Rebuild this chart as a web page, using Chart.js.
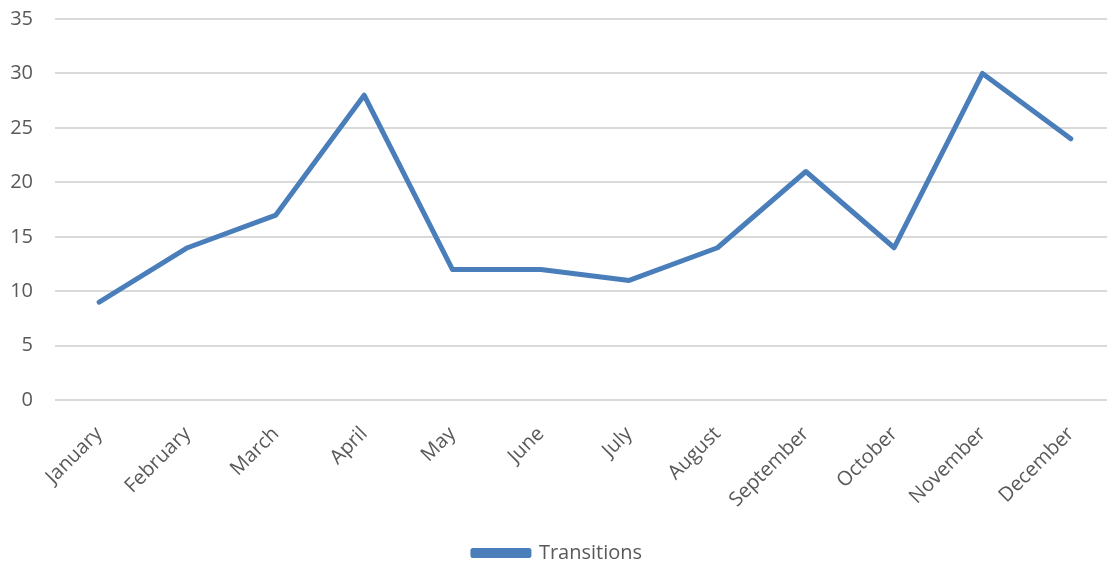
<!DOCTYPE html>
<html>
<head>
<meta charset="utf-8">
<script src="https://cdn.jsdelivr.net/npm/chart.js@4/dist/chart.umd.min.js"></script>
<style>
  html, body { margin: 0; padding: 0; background: #fff; overflow: hidden; }
  #wrap { width: 1115px; height: 567px; }
</style>
</head>
<body>
<div id="wrap"><canvas id="lineChart"></canvas></div>
<script>
const months = ["January", "February", "March", "April", "May", "June",
                "July", "August", "September", "October", "November", "December"];
const transitions = [9, 14, 17, 28, 12, 12, 11, 14, 21, 14, 30, 24];
const yTicks = [0, 5, 10, 15, 20, 25, 30, 35];

const textColor = '#595959';
const lineColor = '#4A7EBB';

function createLineChart() {
  const ctx = document.getElementById('lineChart').getContext('2d');
  new Chart(ctx, {
    type: 'line',
    data: {
      labels: months,
      datasets: [{
        label: 'Transitions',
        data: transitions,
        borderColor: lineColor,
        backgroundColor: lineColor,
        borderWidth: 5,
        borderCapStyle: 'round',
        borderJoinStyle: 'round',
        pointRadius: 0,
        tension: 0
      }]
    },
    options: {
      responsive: true,
      maintainAspectRatio: false,
      animation: false,
      layout: { padding: { top: 19, left: 0, right: 0, bottom: -6 } },
      plugins: {
        tooltip: { enabled: false },
        legend: {
          position: 'bottom',
          labels: {
            color: textColor,
            font: { family: 'Open Sans', size: 20 },
            boxWidth: 56,
            boxHeight: 5,
            padding: 17
          }
        }
      },
      scales: {
        x: {
          offset: true,
          grid: { display: false },
          border: { display: false },
          afterFit: function(axis) {
            // let the first rotated label hang under the y labels, like the original
            axis.paddingLeft = 0;
          },
          ticks: {
            color: textColor,
            font: { family: 'Open Sans', size: 20 },
            minRotation: 45,
            maxRotation: 45,
            padding: 14
          }
        },
        y: {
          min: yTicks[0],
          max: yTicks[yTicks.length - 1],
          grid: { color: '#d9d9d9', lineWidth: 2, drawTicks: false },
          border: { display: false },
          afterBuildTicks: function(axis) {
            axis.ticks = yTicks.map(function(v) { return { value: v }; });
          },
          afterFit: function(axis) {
            axis.width = 55;
            axis.paddingTop = 0;
            axis.paddingBottom = 0;
          },
          ticks: {
            color: textColor,
            font: { family: 'Open Sans', size: 20 },
            padding: 22
          }
        }
      }
    }
  });
}

createLineChart();
</script>
</body>
</html>
